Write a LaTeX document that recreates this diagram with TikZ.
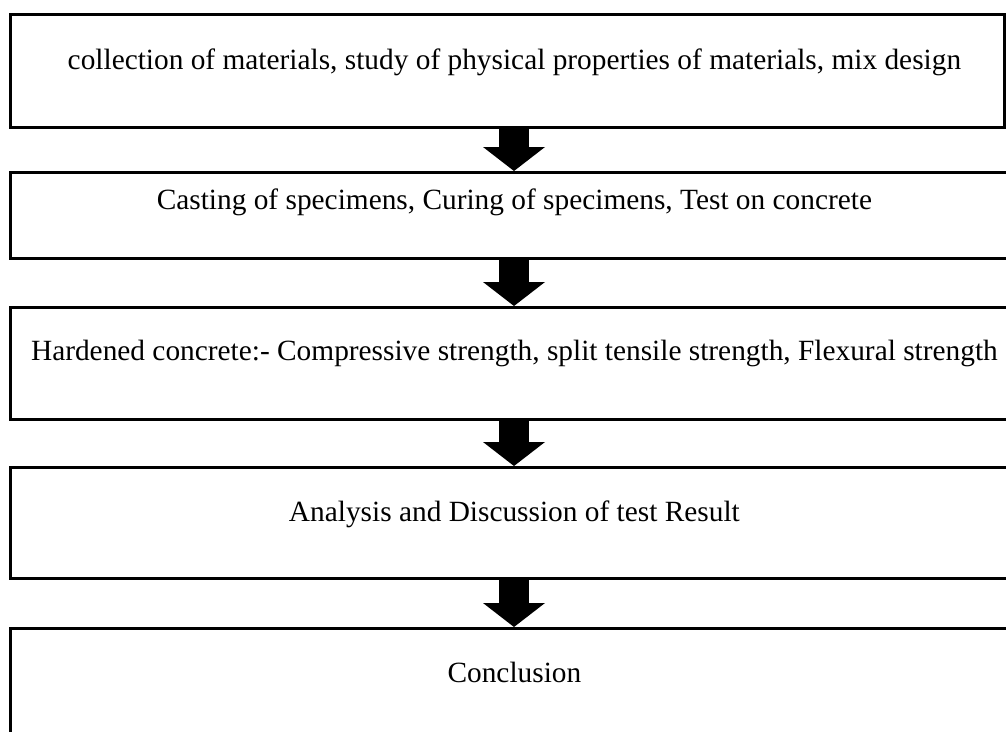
\documentclass[tikz,border=0pt]{standalone}
\usepackage{fontspec}
\setmainfont{Liberation Serif}
\usetikzlibrary{arrows.meta}

\tikzset{
  stagebox/.style={draw, line width=2.8pt, rectangle, anchor=north west, inner sep=0pt,
    font=\fontsize{29.35}{34}\selectfont},
  blockarrow/.style={line width=30pt, -{Triangle[length=24pt 0 0,width=62pt 0 0,line width=0pt 0 0]}},
}

\begin{document}
\begin{tikzpicture}[x=1pt,y=1pt,yscale=-1]
\clip (0,0) rectangle (1006,731);

% centre line of the block arrows
\coordinate (axis) at (514,0);

% Stage boxes
\node [stagebox, minimum width=994pt, text height=55pt, text depth=58pt] (materials) at (9,13)
  {\hspace*{14pt}collection of materials, study of physical properties of materials, mix design};
\node [stagebox, minimum width=1008pt, text height=37pt, text depth=49pt] (casting) at (9,171)
  {Casting of specimens, Curing of specimens, Test on concrete};
\node [stagebox, minimum width=1008pt, text height=53pt, text depth=59pt] (hardened) at (9,306)
  {Hardened concrete:- Compressive strength, split tensile strength, Flexural strength};
\node [stagebox, minimum width=1008pt, text height=54pt, text depth=57pt] (analysis) at (9,466)
  {Analysis and Discussion of test Result};
\node [stagebox, minimum width=1008pt, text height=54pt, text depth=80pt] (conclusion) at (9,627)
  {Conclusion};

% Block arrows
\draw [blockarrow] (materials.south -| axis) -- (casting.north -| axis);
\draw [blockarrow] (casting.south -| axis) -- (hardened.north -| axis);
\draw [blockarrow] (hardened.south -| axis) -- (analysis.north -| axis);
\draw [blockarrow] (analysis.south -| axis) -- (conclusion.north -| axis);

\end{tikzpicture}
\end{document}
